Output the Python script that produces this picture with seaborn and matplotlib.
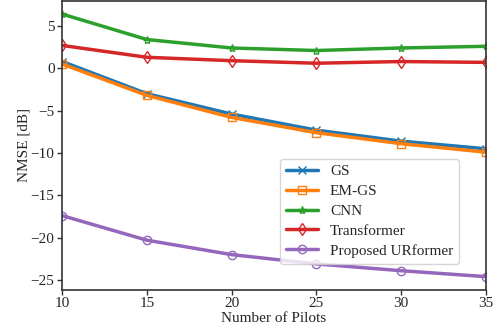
import matplotlib
matplotlib.use("Agg")
import matplotlib.pyplot as plt
import seaborn as sns
import pandas as pd

pilots = [10, 15, 20, 25, 30, 35]
gs = [0.8, -3.0, -5.4, -7.3, -8.6, -9.5]
em_gs = [0.5, -3.2, -5.8, -7.6, -8.9, -9.9]
cnn = [6.4, 3.4, 2.4, 2.1, 2.4, 2.6]
transformer = [2.7, 1.3, 0.9, 0.6, 0.8, 0.7]
urformer = [-17.4, -20.3, -22.0, -23.1, -23.9, -24.6]

names = ["GS", "EM-GS", "CNN", "Transformer", "Proposed URformer"]
series = [gs, em_gs, cnn, transformer, urformer]
markers = ["x", "s", "*", "d", "o"]
colors = sns.color_palette("tab10", 5)

sns.set_theme(style="ticks")
plt.rcParams["font.family"] = ["Liberation Serif", "DejaVu Serif"]
plt.rcParams["mathtext.fontset"] = "stix"

fig, ax = plt.subplots(figsize=(4.98, 3.3), dpi=100)
for name, vals, m, c in zip(names, series, markers, colors):
    df = pd.DataFrame({"x": pilots, "y": vals})
    sns.lineplot(data=df, x="x", y="y", ax=ax, color=c, linewidth=2.5,
                 marker=m, markersize=6, markerfacecolor="none",
                 markeredgecolor=c, markeredgewidth=1.0, label=name)

ax.set_xlim(10, 35)
ax.set_xlabel("Number of Pilots", fontsize=11, labelpad=1)
ax.set_ylabel("NMSE [dB]", fontsize=11, labelpad=0)
ax.tick_params(labelsize=11, pad=2, length=3.5, width=1, color="#333333")
for s in ax.spines.values():
    s.set_color("#333333")
    s.set_linewidth(1.2)
leg = ax.legend(loc="lower right", bbox_to_anchor=(0.938, 0.09),
                borderaxespad=0, fontsize=11, frameon=True, handlelength=2.1,
                labelspacing=0.4)
fig.subplots_adjust(left=0.125, right=0.975, top=0.997, bottom=0.122)
fig.savefig("out.png", dpi=100)
